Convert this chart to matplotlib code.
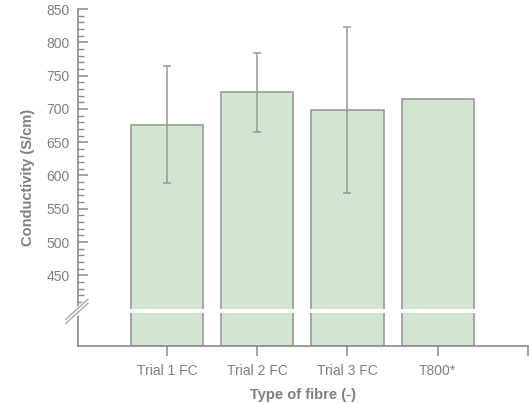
import matplotlib
matplotlib.use("Agg")
import matplotlib.pyplot as plt
import numpy as np

categories = ["Trial 1 FC", "Trial 2 FC", "Trial 3 FC", "T800*"]
values = [676, 725, 698, 715]
errors = [88, 59, 125, 0]
yticks = [450, 500, 550, 600, 650, 700, 750, 800, 850]

plt.rcParams['font.family'] = ['Liberation Sans', 'DejaVu Sans']
gray = '#8a8a8a'
txt = '#7f7f7f'

fig = plt.figure(figsize=(5.29, 4.04), dpi=100)
ax = fig.add_axes([0.1474, 0.1436, 0.8506, 0.8341])

ymin = 344
x = np.arange(len(categories))
heights = [v - ymin for v in values]
ax.bar(x, heights, bottom=ymin, width=0.8, color='#d2e5d1', edgecolor='#9a9a9a',
       linewidth=1.2, zorder=2)
for xi, v, e in zip(x, values, errors):
    if e > 0:
        ax.errorbar(xi, v, yerr=e, fmt='none', ecolor='#999999', elinewidth=1.1,
                    capsize=3, capthick=1.1, zorder=3)

# axis break band
ax.axhspan(393, 400, color='white', zorder=4, lw=0)

ax.set_xlim(-0.985, 4.0)
ax.set_ylim(ymin, 850)
ax.set_xticks(list(x) + [4])
ax.set_xticklabels(categories + [""])
ax.set_yticks(yticks)
ax.set_yticks(np.arange(410, 851, 10), minor=True)

for s in ['top', 'right']:
    ax.spines[s].set_visible(False)
for s in ['left', 'bottom']:
    ax.spines[s].set_color(gray)
    ax.spines[s].set_linewidth(1.2)

ax.tick_params(axis='y', which='major', direction='in', length=7, width=1.1,
               color=gray, labelcolor=txt, labelsize=10, pad=6)
ax.tick_params(axis='y', which='minor', direction='in', length=4, width=1.0, color=gray)
ax.tick_params(axis='x', which='major', direction='out', length=7, width=1.1,
               color=gray, labelcolor=txt, labelsize=10, pad=6)

ax.set_ylabel("Conductivity (S/cm)", fontsize=10.5, fontweight='bold', color=txt, labelpad=8)
ax.set_xlabel("Type of fibre (-)", fontsize=10.5, fontweight='bold', color=txt, labelpad=7)

# slash marks on y axis
tr = ax.get_yaxis_transform()
xs = np.array([-0.027, 0.022])
ax.plot(xs, [380, 410], transform=tr, color='white', lw=5, clip_on=False, zorder=5)
ax.plot(xs, [378, 408], transform=tr, color='#aaaaaa', lw=1.0, clip_on=False, zorder=6)
ax.plot(xs, [384, 414], transform=tr, color='#aaaaaa', lw=1.0, clip_on=False, zorder=6)

fig.savefig("out.png", dpi=100)
